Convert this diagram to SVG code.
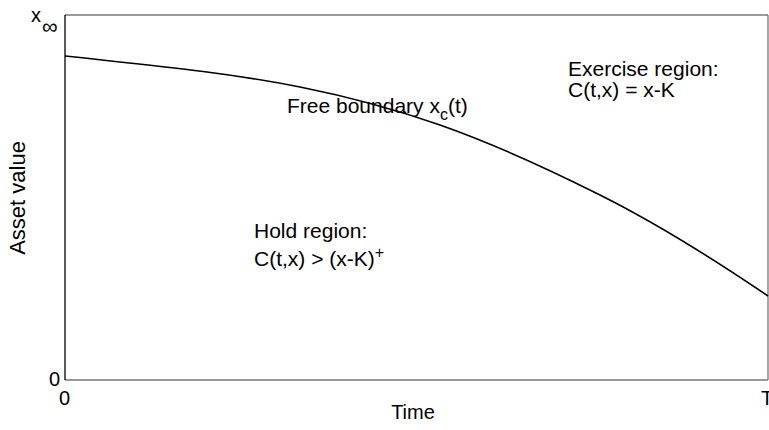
<svg xmlns="http://www.w3.org/2000/svg" width="769" height="430" viewBox="0 0 769 430">
<style>
text{font-family:"Liberation Sans",Arial,sans-serif;font-size:21px;fill:#000}
.sub{font-size:16px}
.ax{stroke:#000;stroke-width:1.3;fill:none}
.axg{stroke:#777;stroke-width:1.3;fill:none}
.curve{stroke:#000;stroke-width:1.6;fill:none}
</style>
<rect width="769" height="430" fill="#fff"/>
<g id="axes">
<line class="axg" x1="65" y1="15" x2="768" y2="15"/>
<line class="axg" x1="65" y1="380" x2="768" y2="380"/>
<line class="ax" x1="65" y1="15" x2="65" y2="380"/>
<line class="axg" x1="768" y1="15" x2="768" y2="380"/>
</g>
<g id="connectors">
<path id="boundary" class="curve" d="M65,56 C143,64.6 222,71.4 300,87 C346.7,96.3 393.3,108.7 440,125 C493.3,143.7 546.7,168.3 600,195 C656,223 712,258 768,296"/>
</g>
<g id="labels">
<text x="31" y="22" style="font-size:20px">x</text>
<text x="42" y="34" style="font-size:22px">∞</text>
<text x="49" y="386" style="font-size:20px">0</text>
<text x="59" y="405" style="font-size:20px">0</text>
<text x="761" y="405" style="font-size:20px">T</text>
<text x="413" y="419" text-anchor="middle" style="font-size:20px">Time</text>
<text transform="translate(25,198) rotate(-90)" text-anchor="middle" style="font-size:22px">Asset value</text>
</g>
<g id="free-boundary">
<text x="287" y="113">Free boundary x<tspan class="sub" dy="7">c</tspan><tspan dy="-7">(t)</tspan></text>
</g>
<g id="hold-region">
<text x="254" y="238">Hold region:</text>
<text x="254" y="266">C(t,x) &gt; (x-K)<tspan class="sub" dy="-8">+</tspan></text>
</g>
<g id="exercise-region">
<text x="568" y="76">Exercise region:</text>
<text x="568" y="97">C(t,x) = x-K</text>
</g>
</svg>
